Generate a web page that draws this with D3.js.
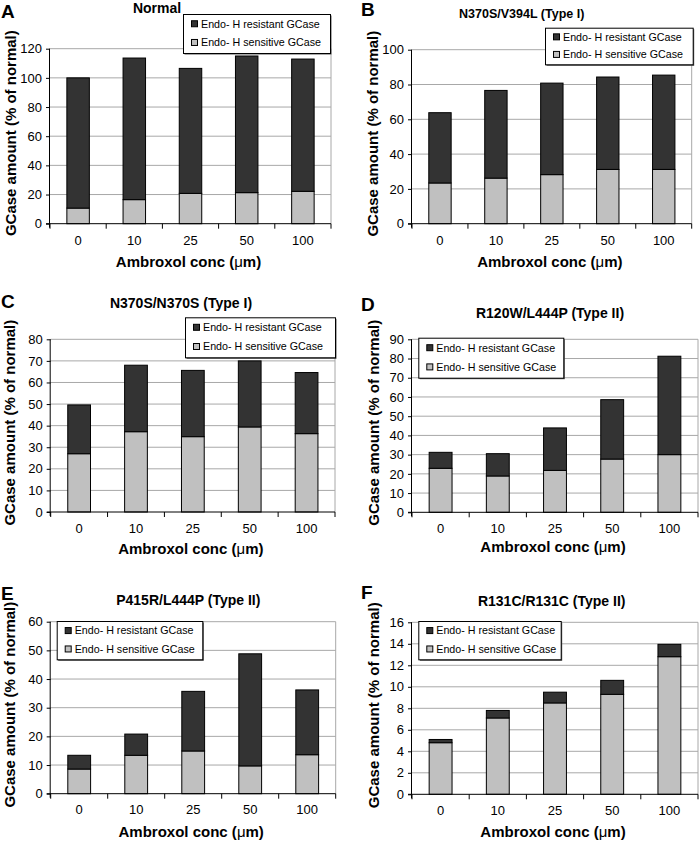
<!DOCTYPE html>
<html><head><meta charset="utf-8">
<script src="https://cdn.jsdelivr.net/npm/d3@7"></script>
<style>
html,body{margin:0;padding:0;background:#fff;}
svg{display:block;font-family:"Liberation Sans",Arial,sans-serif;}
</style></head>
<body>
<svg id="c" width="700" height="841"></svg>
<script>
// ---- data ----
const categories = ["0","10","25","50","100"];
const seriesNames = ["Endo- H resistant GCase","Endo- H sensitive GCase"];
const panelLetters = ["A","B","C","D","E","F"];
const panelTitles = ["Normal","N370S/V394L (Type I)","N370S/N370S (Type I)","R120W/L444P (Type II)","P415R/L444P (Type II)","R131C/R131C (Type II)"];
const sensitiveA = [10.7,16.5,20.8,21.3,22.2];
const resistantA = [89.3,97.1,85.7,93.7,90.7];
const sensitiveB = [23.4,26.2,28.2,31.2,31.2];
const resistantB = [40.4,50.4,52.6,53.1,54.2];
const sensitiveC = [27.0,37.2,34.9,39.4,36.3];
const resistantC = [22.6,30.8,30.7,30.6,28.3];
const sensitiveD = [22.9,18.9,21.8,27.7,30.0];
const resistantD = [8.3,11.6,22.1,30.9,51.2];
const sensitiveE = [8.6,13.4,14.9,9.7,13.6];
const resistantE = [4.8,7.4,20.8,39.1,22.6];
const sensitiveF = [4.8,7.1,8.5,9.3,12.8];
const resistantF = [0.3,0.7,1.0,1.3,1.15];
const yMax = [120,100,80,90,60,16];
const yStep = [20,20,10,10,10,2];
const yLabel = "GCase amount (% of normal)";
const xLabel = "Ambroxol conc (";
const sensitives = [sensitiveA,sensitiveB,sensitiveC,sensitiveD,sensitiveE,sensitiveF];
const resistants = [resistantA,resistantB,resistantC,resistantD,resistantE,resistantF];

// ---- layout ----
const layout = [
  {l:50,r:331,t:48.7,b:223.7, leg:[183,14,147,39], title:[157,13.3,14], letter:[1,18], yl:10, tick:245, xt:267},
  {l:412,r:691.7,t:49.7,b:223.7, leg:[545,27.7,147.7,36.6], title:[521.7,18,12.5], letter:[361,16], yl:372, tick:245, xt:267},
  {l:50.7,r:335,t:339.3,b:512, leg:[185,317.3,150,40], title:[181,308.3,14], letter:[1,308], yl:9.5, tick:533, xt:554},
  {l:412,r:698,t:339.3,b:512.3, leg:[418.3,337.7,145,40], title:[550,318.3,14], letter:[361,311], yl:373, tick:533, xt:552},
  {l:50.7,r:335.7,t:621.7,b:793.7, leg:[56.7,621,145.6,38.3], title:[188.3,605,14], letter:[1,600], yl:9.5, tick:814, xt:837},
  {l:412,r:698,t:622.3,b:794.3, leg:[418.3,621,142.4,38.3], title:[551.7,605.7,14], letter:[361,599], yl:373, tick:815, xt:837}
];
const colors = ["#333333","#c0c0c0"];
const gridColor = "#a8a8a8";

const svg = d3.select("#c");

layout.forEach((L,pi)=>{
  const g = svg.append("g");
  const rows = categories.map((c,i)=>({cat:c, res:resistants[pi][i], sen:sensitives[pi][i]}));
  const stack = d3.stack().keys(["sen","res"])(rows);
  const x = d3.scaleBand().domain(categories).range([L.l,L.r]).paddingInner(0.6).paddingOuter(0.3);
  const y = d3.scaleLinear().domain([0,yMax[pi]]).range([L.b,L.t]);
  const ticks = d3.range(0,yMax[pi]+yStep[pi]/2,yStep[pi]);

  // gridlines
  g.selectAll(".grid").data(ticks.filter(d=>d>0)).join("line")
    .attr("x1",L.l).attr("x2",L.r).attr("y1",d=>y(d)).attr("y2",d=>y(d))
    .attr("stroke",gridColor).attr("stroke-width",1);
  // right border
  g.append("line").attr("x1",L.r).attr("x2",L.r).attr("y1",L.t).attr("y2",L.b)
    .attr("stroke",gridColor).attr("stroke-width",1);

  // bars
  stack.forEach((s,si)=>{
    g.selectAll(".bar"+si).data(s).join("rect")
      .attr("x",d=>x(d.data.cat)).attr("width",x.bandwidth())
      .attr("y",d=>y(d[1])).attr("height",d=>y(d[0])-y(d[1]))
      .attr("fill",si===0?colors[1]:colors[0])
      .attr("stroke","#000").attr("stroke-width",1);
  });

  // y axis
  const yAxis = d3.axisLeft(y).tickValues(ticks).tickSize(4).tickPadding(4).tickFormat(d3.format("d"));
  const ya = g.append("g").attr("transform",`translate(${L.l},0)`).call(yAxis);
  ya.select(".domain").attr("stroke","#000").attr("d",`M-0.5,${L.t}V${L.b+4}`);
  ya.selectAll("text").attr("font-size",13).attr("fill","#000").attr("font-family","'Liberation Sans',Arial,sans-serif");
  ya.selectAll("line").attr("stroke","#000");

  // x axis
  g.append("line").attr("x1",L.l-4).attr("x2",L.r).attr("y1",L.b).attr("y2",L.b).attr("stroke","#000");
  const step = x.step();
  g.selectAll(".xt").data(d3.range(0,categories.length+1)).join("line")
    .attr("x1",i=>L.l+i*step).attr("x2",i=>L.l+i*step).attr("y1",L.b).attr("y2",L.b+5)
    .attr("stroke","#000");
  g.selectAll(".xl").data(categories).join("text")
    .attr("x",d=>x(d)+x.bandwidth()/2).attr("y",L.tick).attr("text-anchor","middle")
    .attr("font-size",13).text(d=>d);

  // axis titles
  const xt = g.append("text").attr("x",(L.l+L.r)/2-2).attr("y",L.xt).attr("text-anchor","middle")
    .attr("font-size",15).attr("font-weight","bold");
  xt.append("tspan").text(xLabel);
  xt.append("tspan").attr("font-weight","normal").text("\u03bc");
  xt.append("tspan").text("m)");
  g.append("text").attr("transform",`translate(${L.yl+5.5},${(L.t+L.b)/2-3}) rotate(-90)`)
    .attr("text-anchor","middle").attr("font-size",15).attr("font-weight","bold").text(yLabel);

  // title and letter
  g.append("text").attr("x",L.title[0]).attr("y",L.title[1]).attr("text-anchor","middle")
    .attr("font-size",L.title[2]).attr("font-weight","bold").text(panelTitles[pi]);
  g.append("text").attr("x",L.letter[0]).attr("y",L.letter[1])
    .attr("font-size",19).attr("font-weight","bold").text(panelLetters[pi]);

  // legend
  const [lx,ly,lw,lh] = L.leg;
  g.append("rect").attr("x",lx+1.5).attr("y",ly+1.5).attr("width",lw).attr("height",lh).attr("fill","#555");
  g.append("rect").attr("x",lx+0.5).attr("y",ly+0.5).attr("width",lw).attr("height",lh)
    .attr("fill","#fff").attr("stroke","#000").attr("stroke-width",1);
  seriesNames.forEach((n,i)=>{
    const cy = ly + lh*(i===0?0.25:0.73);
    g.append("rect").attr("x",lx+8.5).attr("y",cy-3).attr("width",6).attr("height",6)
      .attr("fill",colors[i]).attr("stroke","#000").attr("stroke-width",1);
    g.append("text").attr("x",lx+18).attr("y",cy+3.8).attr("font-size",10.7).text(n);
  });
});
</script>
</body></html>
